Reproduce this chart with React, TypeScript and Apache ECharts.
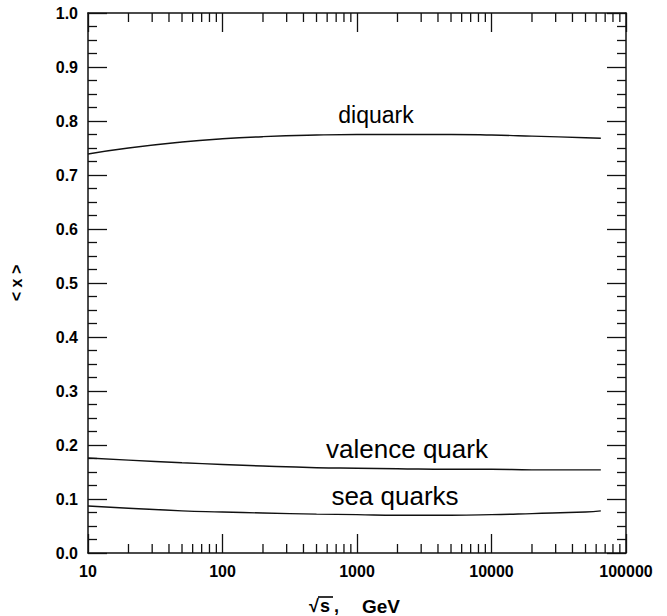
import React, { useEffect, useRef } from "react";
import * as echarts from "echarts";

const energies = [10, 20, 50, 100, 200, 500, 1000, 2000, 5000, 10000, 20000, 50000, 65000];
const diquark = [0.739, 0.750, 0.761, 0.767, 0.771, 0.774, 0.775, 0.775, 0.775, 0.774, 0.772, 0.769, 0.768];
const valence = [0.176, 0.172, 0.167, 0.164, 0.161, 0.158, 0.157, 0.156, 0.155, 0.155, 0.154, 0.154, 0.154];
const sea = [0.087, 0.083, 0.078, 0.076, 0.074, 0.072, 0.071, 0.070, 0.070, 0.071, 0.073, 0.076, 0.078];
const xTickLabels = ["10", "100", "1000", "10000", "100000"];
const minorXTicks: number[] = [];
for (const dec of [10, 100, 1000, 10000]) {
  for (const m of [2, 3, 4, 5, 6, 7, 8, 9]) minorXTicks.push(dec * m);
}

const FONT = "'Liberation Sans', Arial, Helvetica, 'DejaVu Sans', sans-serif";

export default function App() {
  const ref = useRef<HTMLDivElement>(null);
  useEffect(() => {
    if (!ref.current) return;
    const chart = echarts.init(ref.current, undefined, { renderer: "svg" });
    const lineStyle = { color: "#111", width: 1.4 };
    const axisLine = { show: true, onZero: false, lineStyle: { color: "#111", width: 1.5 } };
    const majorTick = { show: true, inside: true, length: 19, lineStyle: { color: "#111", width: 1.3 } };
    const minorTick = { show: true, splitNumber: 4, length: 9, lineStyle: { color: "#111", width: 1.3 } };
    const toPairs = (ys: number[]) => energies.map((x, i) => [x, ys[i]]);
    const titleStyle = { fontSize: 18, fontWeight: "bold", fontFamily: FONT, fill: "#000", verticalAlign: "middle" };
    const labelStyle = { fontFamily: FONT, fill: "#000", align: "center", verticalAlign: "middle" };
    chart.setOption({
      animation: false,
      backgroundColor: "#fff",
      grid: { left: 88, top: 13, right: 41, bottom: 63, containLabel: false },
      xAxis: [
        {
          type: "log",
          logBase: 10,
          min: 10,
          max: 100000,
          position: "bottom",
          axisLine,
          axisTick: majorTick,
          axisLabel: {
            color: "#000",
            fontSize: 16,
            fontWeight: "bold",
            fontFamily: FONT,
            margin: 10,
            formatter: (v: number) => xTickLabels[Math.round(Math.log10(v)) - 1] ?? "",
          },
          splitLine: { show: false },
        },
        {
          type: "log",
          logBase: 10,
          min: 10,
          max: 100000,
          position: "top",
          axisLine,
          axisTick: majorTick,
          axisLabel: { show: false },
          splitLine: { show: false },
        },
      ],
      yAxis: [
        {
          type: "value",
          min: 0,
          max: 1,
          interval: 0.1,
          position: "left",
          axisLine,
          axisTick: majorTick,
          minorTick,
          axisLabel: {
            color: "#000",
            fontSize: 16,
            fontWeight: "bold",
            fontFamily: FONT,
            margin: 10,
            formatter: (v: number) => v.toFixed(1),
          },
          splitLine: { show: false },
          name: "< x >",
          nameLocation: "middle",
          nameRotate: 90,
          nameGap: 64,
          nameTextStyle: { color: "#000", fontSize: 16, fontWeight: "bold", fontFamily: FONT },
        },
        {
          type: "value",
          min: 0,
          max: 1,
          interval: 0.1,
          position: "right",
          axisLine,
          axisTick: majorTick,
          minorTick,
          axisLabel: { show: false },
          splitLine: { show: false },
        },
      ],
      series: [
        { type: "line", name: "diquark", data: toPairs(diquark), smooth: true, showSymbol: false, lineStyle },
        { type: "line", name: "valence quark", data: toPairs(valence), smooth: true, showSymbol: false, lineStyle },
        { type: "line", name: "sea quarks", data: toPairs(sea), smooth: true, showSymbol: false, lineStyle },
        {
          type: "custom",
          name: "minor x ticks",
          data: minorXTicks.map((v) => [v, 0]),
          clip: false,
          silent: true,
          renderItem: (params: any, api: any) => {
            const v = api.value(0);
            const bottom = api.coord([v, 0]);
            const top = api.coord([v, 1]);
            const style = { stroke: "#111", lineWidth: 1.3 };
            return {
              type: "group",
              children: [
                { type: "line", shape: { x1: bottom[0], y1: bottom[1], x2: bottom[0], y2: bottom[1] - 9 }, style },
                { type: "line", shape: { x1: top[0], y1: top[1], x2: top[0], y2: top[1] + 9 }, style },
              ],
            };
          },
        },
      ],
      graphic: [
        { type: "text", x: 376, y: 115, style: { ...labelStyle, fontSize: 23, text: "diquark" } },
        { type: "text", x: 407, y: 449, style: { ...labelStyle, fontSize: 26, text: "valence quark" } },
        { type: "text", x: 395, y: 496, style: { ...labelStyle, fontSize: 26, text: "sea quarks" } },
        { type: "text", x: 309, y: 606, style: { ...titleStyle, text: "√" } },
        { type: "text", x: 320, y: 606, style: { ...titleStyle, text: "s" } },
        { type: "line", shape: { x1: 318, y1: 597, x2: 333, y2: 597 }, style: { stroke: "#000", lineWidth: 1.6 } },
        { type: "text", x: 334, y: 606, style: { ...titleStyle, text: "," } },
        { type: "text", x: 362, y: 606, style: { ...titleStyle, fontSize: 19, text: "GeV" } },
      ],
    });
    return () => chart.dispose();
  }, []);
  return <div ref={ref} style={{ width: 667, height: 616, position: "absolute", left: 0, top: 0 }} />;
}
